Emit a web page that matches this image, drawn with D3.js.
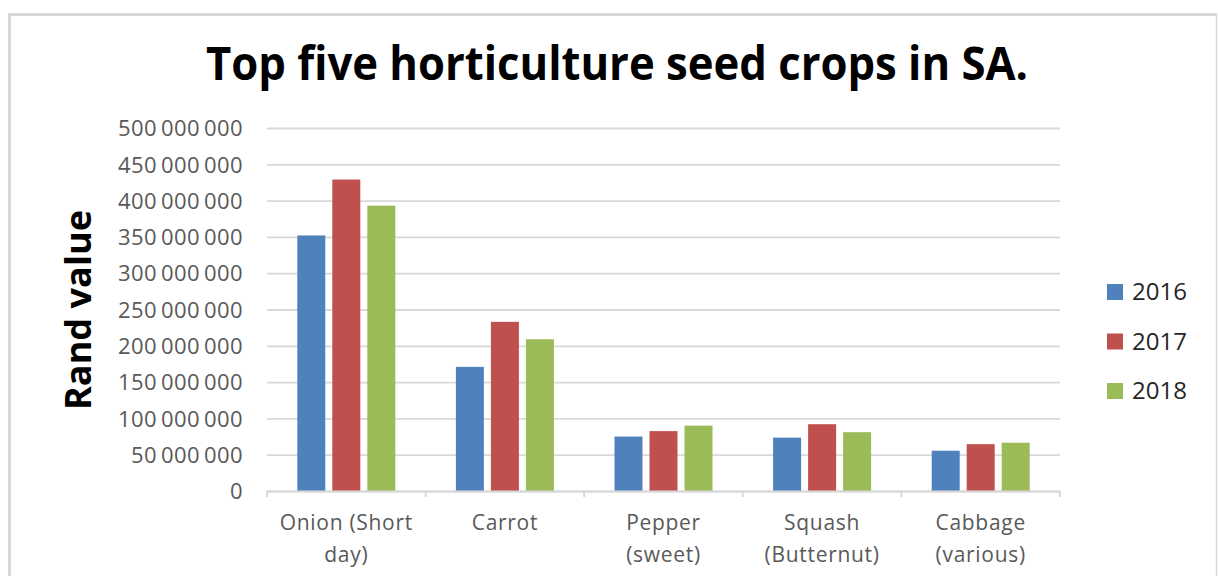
<!DOCTYPE html>
<html lang="en">
<head>
    <meta charset="UTF-8">
    <title>Top five horticulture seed crops in SA.</title>
    <style>
        body { margin: 0; background: #fff; }
        svg { display: block; font-family: "Open Sans", "Noto Sans", sans-serif; }
        .grid line { stroke: #d9d9d9; stroke-width: 1.8; }
        .grid path { display: none; }
        .tick-label { fill: #595959; font-size: 21px; }
        .y-label { fill: #595959; font-size: 22px; }
    </style>
</head>
<body>
    <svg id="chart" width="1218" height="576"></svg>
    <script src="https://cdnjs.cloudflare.com/ajax/libs/d3/7.9.0/d3.min.js"></script>
    <script>
        // Data
        const categories = ["Onion (Short day)", "Carrot", "Pepper (sweet)", "Squash (Butternut)", "Cabbage (various)"];
        const categoryLines = [["Onion (Short", "day)"], ["Carrot"], ["Pepper", "(sweet)"], ["Squash", "(Butternut)"], ["Cabbage", "(various)"]];
        const years = ["2016", "2017", "2018"];
        const values2016 = [352000000, 171000000, 75000000, 73500000, 55500000];
        const values2017 = [429000000, 233000000, 82500000, 92000000, 64500000];
        const values2018 = [393000000, 209000000, 90000000, 81000000, 66500000];
        const yTicks = [0, 50000000, 100000000, 150000000, 200000000, 250000000, 300000000, 350000000, 400000000, 450000000, 500000000];
        const colors = ["#4f81bd", "#c0504d", "#9bbb59"];

        const series = [values2016, values2017, values2018];

        const svg = d3.select("#chart");
        const plotLeft = 267, plotRight = 1060, plotTop = 128, plotBottom = 491;

        // chart frame
        svg.append("line").attr("x1", 8).attr("x2", 1217).attr("y1", 14.5).attr("y2", 14.5)
            .attr("stroke", "#d9d9d9").attr("stroke-width", 3);
        svg.append("line").attr("x1", 9.5).attr("x2", 9.5).attr("y1", 13).attr("y2", 576)
            .attr("stroke", "#d9d9d9").attr("stroke-width", 3);
        svg.append("line").attr("x1", 1216.5).attr("x2", 1216.5).attr("y1", 13).attr("y2", 576)
            .attr("stroke", "#d9d9d9").attr("stroke-width", 1.5);

        // title
        svg.append("text")
            .attr("x", 617).attr("y", 80)
            .attr("text-anchor", "middle")
            .attr("font-size", 47).attr("font-weight", "bold").attr("fill", "#000")
            .attr("textLength", 822).attr("lengthAdjust", "spacingAndGlyphs")
            .text("Top five horticulture seed crops in SA.");

        const y = d3.scaleLinear().domain([0, 500000000]).range([plotBottom, plotTop]);

        const x0 = d3.scaleBand().domain(categories).range([plotLeft, plotRight])
            .paddingInner(0.382).paddingOuter(0.191);
        const x1 = d3.scaleBand().domain(years).range([0, x0.bandwidth()]).paddingInner(0.2);

        // gridlines + y labels
        const fmt = d => d3.format(",")(d).replace(/,/g, " ");
        const yAxis = svg.append("g").attr("class", "grid")
            .attr("transform", `translate(${plotLeft},0)`)
            .call(d3.axisLeft(y).tickValues(yTicks).tickSize(-(plotRight - plotLeft)).tickPadding(24).tickFormat(fmt));
        yAxis.attr("font-family", null).attr("font-size", null);
        yAxis.selectAll("text").attr("class", "y-label").attr("fill", null)
            .attr("letter-spacing", 0.4).attr("word-spacing", -2).attr("dy", "0.35em");

        // bars
        const groups = svg.append("g").selectAll("g")
            .data(categories)
            .join("g")
            .attr("transform", d => `translate(${x0(d)},0)`);

        groups.selectAll("rect")
            .data((c, i) => years.map((yr, k) => ({ year: yr, value: series[k][i], k })))
            .join("rect")
            .attr("x", d => x1(d.year))
            .attr("width", x1.bandwidth())
            .attr("y", d => y(d.value))
            .attr("height", d => y(0) - y(d.value))
            .attr("fill", d => colors[d.k]);

        // category axis line and ticks between categories
        const half = x0.step() * x0.paddingInner() / 2;
        const bounds = [plotLeft].concat(categories.map(c => x0(c) + x0.bandwidth() + half));
        svg.append("line").attr("x1", plotLeft).attr("x2", plotRight).attr("y1", plotBottom + 0.5).attr("y2", plotBottom + 0.5)
            .attr("stroke", "#d9d9d9").attr("stroke-width", 2);
        svg.append("g").selectAll("line").data(bounds).join("line")
            .attr("x1", d => d).attr("x2", d => d)
            .attr("y1", plotBottom).attr("y2", plotBottom + 6)
            .attr("stroke", "#d9d9d9").attr("stroke-width", 2);

        // category labels
        const labels = svg.append("g").selectAll("text")
            .data(categories)
            .join("text")
            .attr("class", "tick-label")
            .attr("text-anchor", "middle")
            .attr("letter-spacing", 0.7)
            .attr("x", d => x0(d) + x0.bandwidth() / 2)
            .attr("y", 530);
        labels.selectAll("tspan")
            .data((d, i) => categoryLines[i])
            .join("tspan")
            .attr("x", function () { return this.parentNode.getAttribute("x"); })
            .attr("dy", (d, i) => i === 0 ? 0 : 32)
            .text(d => d);

        // y axis title
        svg.append("text")
            .attr("transform", "translate(91,310) rotate(-90)")
            .attr("text-anchor", "middle")
            .attr("font-size", 35).attr("font-weight", "bold").attr("fill", "#000")
            .attr("textLength", 200).attr("lengthAdjust", "spacingAndGlyphs")
            .text("Rand value");

        // legend
        const legend = svg.append("g").selectAll("g")
            .data(years)
            .join("g")
            .attr("transform", (d, i) => `translate(1107,${284 + i * 49.5})`);
        legend.append("rect").attr("width", 16).attr("height", 16).attr("fill", (d, i) => colors[i]);
        legend.append("text")
            .attr("x", 25).attr("y", 8).attr("dy", "0.35em")
            .attr("font-size", 24).attr("fill", "#262626")
            .text(d => d);
    </script>
</body>
</html>
